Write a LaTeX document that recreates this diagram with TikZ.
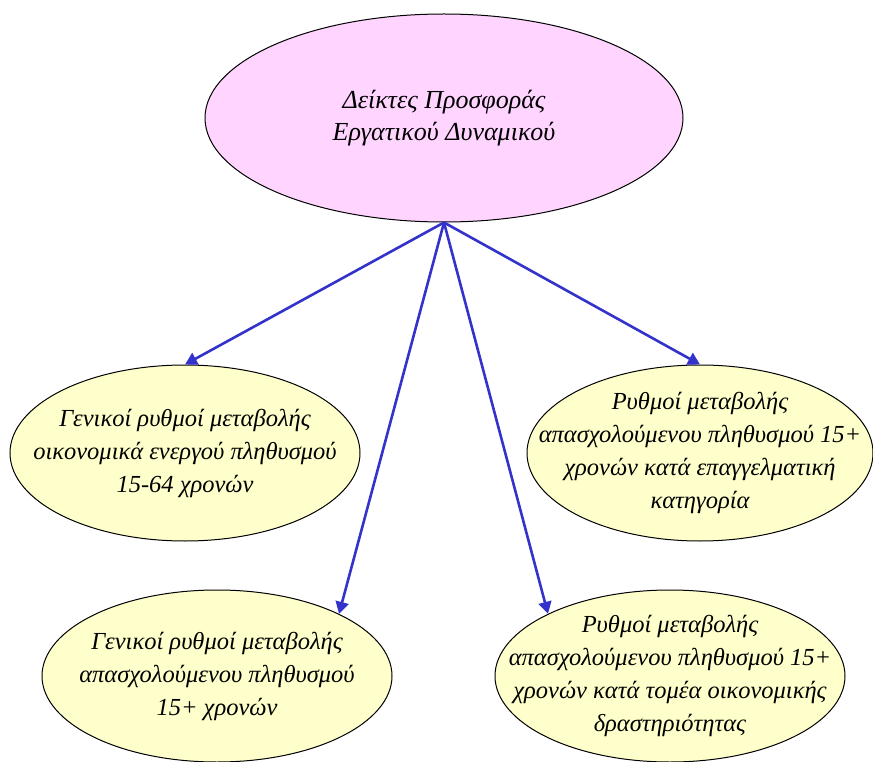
\documentclass[tikz,border=0pt]{standalone}
\usepackage{fontspec}
\setmainfont{Liberation Serif}
\usetikzlibrary{positioning,arrows.meta,shapes.geometric}
\definecolor{rootfill}{HTML}{FFD5FF}
\definecolor{leaffill}{HTML}{FFFFCC}
\definecolor{linkblue}{HTML}{3333CC}

\begin{document}
\begin{tikzpicture}[
    x=1pt, y=-1pt,
    root/.style={ellipse, draw=black, line width=1pt, fill=rootfill, minimum width=478pt, minimum height=208pt, inner xsep=-60pt, inner ysep=-30pt, align=center, font=\itshape\fontsize{26}{32}\selectfont},
    leaf/.style={ellipse, draw=black, line width=1pt, fill=leaffill, minimum width=350pt, minimum height=176pt, inner xsep=-60pt, inner ysep=-40pt, align=center, font=\itshape\fontsize{24.5}{33}\selectfont},
    link/.style={-{Triangle[length=12pt, width=13pt]}, line width=2.6pt, draw=linkblue}
]
    \useasboundingbox (0,0) rectangle (873,762);

    % Root
    \node[root] (indices) at (444,118) {Δείκτες Προσφοράς\\Εργατικού Δυναμικού};

    % Upper row
    \node[leaf] (active) at (185,453) {Γενικοί ρυθμοί μεταβολής\\οικονομικά ενεργού πληθυσμού\\15-64 χρονών};
    \node[leaf, minimum width=346pt] (occupation) at (700,453) {Ρυθμοί μεταβολής\\απασχολούμενου πληθυσμού 15+\\χρονών κατά επαγγελματική\\κατηγορία};

    % Lower row
    \node[leaf, minimum height=172pt] (employed) at (217,676) {Γενικοί ρυθμοί μεταβολής\\απασχολούμενου πληθυσμού\\15+ χρονών};
    \node[leaf, minimum height=172pt] (sector) at (670,676) {Ρυθμοί μεταβολής\\απασχολούμενου πληθυσμού 15+\\χρονών κατά τομέα οικονομικής\\δραστηριότητας};

    % Connections
    \draw[link] (indices.south) -- (active.north);
    \draw[link] (indices.south) -- (occupation.north);
    \draw[link] (indices.south) -- (employed.27);
    \draw[link] (indices.south) -- (sector.153);
\end{tikzpicture}
\end{document}
